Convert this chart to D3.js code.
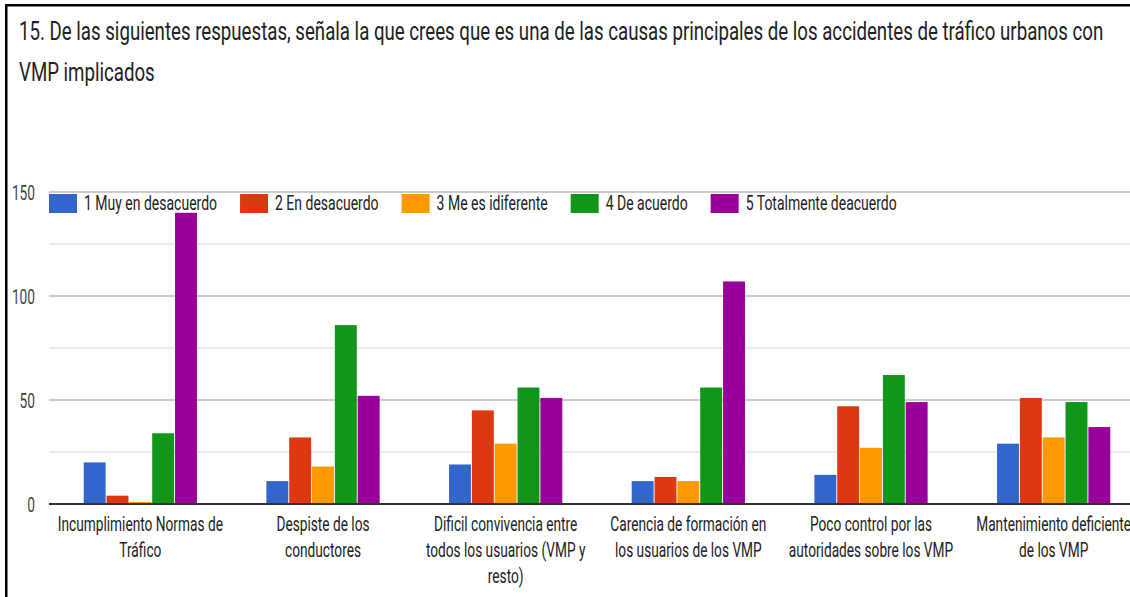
<!DOCTYPE html>
<html>
<head>
<meta charset="utf-8">
<script src="https://cdn.jsdelivr.net/npm/d3@7/dist/d3.min.js"></script>
<style>
  html, body { margin: 0; padding: 0; background: #fff; }
  svg { display: block; font-family: Roboto, Arial, sans-serif; }
</style>
</head>
<body>
<div id="chart"></div>
<script>
// data
var categories = [
    ["Incumplimiento Normas de", "Tráfico"],
    ["Despiste de los", "conductores"],
    ["Dificil convivencia entre", "todos los usuarios (VMP y", "resto)"],
    ["Carencia de formación en", "los usuarios de los VMP"],
    ["Poco control por las", "autoridades sobre los VMP"],
    ["Mantenimiento deficiente", "de los VMP"]
];
var seriesNames = ["1 Muy en desacuerdo", "2 En desacuerdo", "3 Me es idiferente", "4 De acuerdo", "5 Totalmente deacuerdo"];
var seriesColors = ["#3366cc", "#dc3912", "#ff9900", "#109618", "#990099"];
var muyDesacuerdo = [20, 11, 19, 11, 14, 29];
var desacuerdo = [4, 32, 45, 13, 47, 51];
var indiferente = [1, 18, 29, 11, 27, 32];
var deAcuerdo = [34, 86, 56, 56, 62, 49];
var totalAcuerdo = [140, 52, 51, 107, 49, 37];
var series = [muyDesacuerdo, desacuerdo, indiferente, deAcuerdo, totalAcuerdo];
var yTicks = [0, 50, 100, 150];
var yMinor = [25, 75, 125];

var title = ["15. De las siguientes respuestas, señala la que crees que es una de las causas principales de los accidentes de tráfico urbanos con",
             "VMP implicados"];

var width = 1130, height = 597;
var sx = 0.685;     // chart text is squeezed horizontally in the picture
var sxLegend = 0.70;
var sxTitle = 0.747;

var svg = d3.select("#chart").append("svg")
    .attr("width", width)
    .attr("height", height);

// squeezed text helper
function label(g, x, y, txt, size, anchor, color, s) {
    return g.append("text")
        .attr("transform", "translate(" + x + "," + y + ") scale(" + (s || sx) + ",1)")
        .attr("text-anchor", anchor || "start")
        .style("font-size", size + "px")
        .style("fill", color || "#222")
        .text(txt);
}

// frame
svg.append("rect").attr("x", 5).attr("y", 4).attr("width", 2.5).attr("height", height).attr("fill", "#000");
svg.append("rect").attr("x", 5).attr("y", 4).attr("width", width).attr("height", 2.5).attr("fill", "#000");

// title
title.forEach(function(t, i) {
    label(svg, 19, 40 + i * 41, t, 25, "start", "#222", sxTitle);
});

var x0 = d3.scaleBand()
    .domain(d3.range(categories.length))
    .range([49, 1145])
    .paddingInner(0)
    .paddingOuter(0);

var x1 = d3.scaleBand()
    .domain(d3.range(series.length))
    .range([0, x0.bandwidth() * 0.62])
    .paddingInner(0.04);

var y = d3.scaleLinear()
    .domain([0, 150])
    .range([504, 192]);

// grid
var grid = svg.append("g");
grid.selectAll(".minor").data(yMinor).enter().append("line")
    .attr("x1", 49).attr("x2", width)
    .attr("y1", function(d) { return y(d); })
    .attr("y2", function(d) { return y(d); })
    .attr("stroke", "#ebebeb").attr("stroke-width", 2);
grid.selectAll(".major").data(yTicks.filter(function(d) { return d > 0; })).enter().append("line")
    .attr("x1", 49).attr("x2", width)
    .attr("y1", function(d) { return y(d); })
    .attr("y2", function(d) { return y(d); })
    .attr("stroke", "#cccccc").attr("stroke-width", 2);

// y labels
yTicks.forEach(function(t) {
    label(svg, 35, y(t) + 8, t, 20, "end", "#444");
});

// bars
var groups = svg.append("g").selectAll("g")
    .data(categories)
    .enter().append("g")
    .attr("transform", function(d, i) {
        return "translate(" + (x0(i) + (x0.bandwidth() - x1.range()[1]) / 2) + ",0)";
    });

groups.selectAll("rect")
    .data(function(d, i) { return series.map(function(s, k) { return {k: k, v: s[i]}; }); })
    .enter().append("rect")
    .attr("x", function(d) { return x1(d.k); })
    .attr("width", x1.bandwidth())
    .attr("y", function(d) { return y(d.v); })
    .attr("height", function(d) { return y(0) - y(d.v); })
    .attr("fill", function(d) { return seriesColors[d.k]; });

// baseline
svg.append("line")
    .attr("x1", 49).attr("x2", width)
    .attr("y1", y(0)).attr("y2", y(0))
    .attr("stroke", "#333").attr("stroke-width", 2);

// x labels
categories.forEach(function(lines, i) {
    var cx = x0(i) + x0.bandwidth() / 2;
    lines.forEach(function(l, j) {
        label(svg, cx, 531 + j * 26, l, 20, "middle", "#222");
    });
});

// legend
var legend = svg.append("g");
var lx = 49;
seriesNames.forEach(function(name, k) {
    legend.append("rect")
        .attr("x", lx).attr("y", 194)
        .attr("width", 28).attr("height", 19)
        .attr("fill", seriesColors[k]);
    var t = label(legend, lx + 35, 210, name, 20, "start", "#222", sxLegend);
    var w = t.node().getComputedTextLength() * sxLegend;
    lx = lx + 35 + w + 23;
});
</script>
</body>
</html>
